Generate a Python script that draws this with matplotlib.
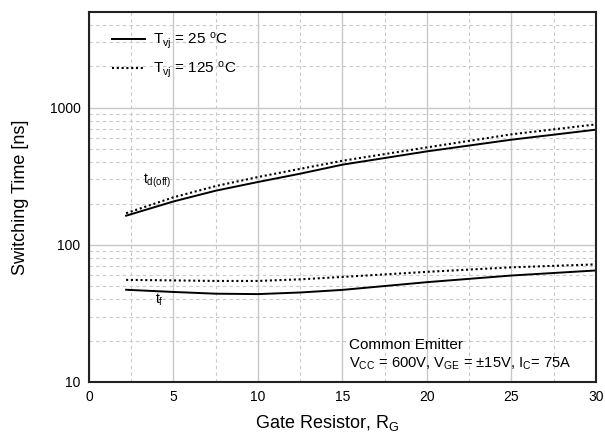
import numpy as np
import matplotlib
matplotlib.use('Agg')
import matplotlib.pyplot as plt
from matplotlib.ticker import FixedLocator, NullFormatter

plt.rcParams['font.family'] = ['Liberation Sans', 'DejaVu Sans']
plt.rcParams['mathtext.fontset'] = 'custom'
plt.rcParams['mathtext.rm'] = 'Liberation Sans'
plt.rcParams['mathtext.it'] = 'Liberation Sans'

# gate resistor values (ohm)
rg = [2.2, 5, 7.5, 10, 12.5, 15, 20, 25, 30]

# turn-off delay time [ns]
td_off_25 = [163, 207, 248, 287, 330, 384, 480, 584, 691]
td_off_125 = [170, 222, 268, 312, 358, 410, 513, 639, 755]

# fall time [ns]
tf_25 = [47, 45.3, 44, 43.7, 44.9, 46.9, 53.4, 59.7, 65]
tf_125 = [55.5, 55, 54.5, 54.5, 56, 58.3, 63.5, 68.5, 72]

fig = plt.figure(figsize=(6.05, 4.37), dpi=100)
ax = fig.add_axes([0.147, 0.126, 0.838, 0.847])

dots = (0, (1.0, 1.3))
ax.plot(rg, td_off_25, color='black', lw=1.4, label=r'T$_{\mathregular{vj}}$ = 25 $^{\mathregular{o}}$C')
ax.plot(rg, td_off_125, color='black', lw=1.5, linestyle=dots, label=r'T$_{\mathregular{vj}}$ = 125 $^{\mathregular{o}}$C')
ax.plot(rg, tf_25, color='black', lw=1.4)
ax.plot(rg, tf_125, color='black', lw=1.5, linestyle=dots)

ax.set_yscale('log')
ax.set_xlim(0, 30)
ax.set_ylim(10, 5000)

ax.set_xticks(np.arange(0, 31, 5))
ax.xaxis.set_minor_locator(FixedLocator(np.arange(2.5, 30, 5)))
ax.set_yticks([10, 100, 1000])
ax.set_yticklabels(['10', '100', '1000'])
minor_y = [m * d for d in (10, 100, 1000) for m in range(2, 10) if m * d < 5000]
ax.yaxis.set_minor_locator(FixedLocator(minor_y))
ax.yaxis.set_minor_formatter(NullFormatter())

ax.tick_params(which='both', length=0, labelsize=10, pad=6)
ax.grid(which='major', color='#c8c8c8', lw=1.0, linestyle='-')
ax.grid(which='minor', color='#c8c8c8', lw=0.8, linestyle=(0, (3, 3)))
ax.set_axisbelow(True)

for s in ax.spines.values():
    s.set_color('#222222')
    s.set_linewidth(1.5)

ax.set_xlabel(r'Gate Resistor, R$_{\mathregular{G}}$', fontsize=13)
ax.xaxis.set_label_coords(0.47, -0.085)
ax.set_ylabel('Switching Time [ns]', fontsize=13, labelpad=15)

ax.text(3.2, 280, r't$_{\mathregular{d(off)}}$', fontsize=10)
ax.text(3.9, 37, r't$_{\mathregular{f}}$', fontsize=10)
ax.text(15.4, 18.5, 'Common Emitter', fontsize=11, va='center')
ax.text(15.4, 13.6, r'V$_{\mathregular{CC}}$ = 600V, V$_{\mathregular{GE}}$ = $\pm$15V, I$_{\mathregular{C}}$= 75A',
        fontsize=10.6, va='center')

leg = ax.legend(loc='upper left', frameon=False, fontsize=11, handlelength=2.2,
                handletextpad=0.5, borderaxespad=0.6, labelspacing=0.55,
                bbox_to_anchor=(0.015, 0.99))
leg.set_zorder(5)

fig.savefig('out.png', dpi=100)
